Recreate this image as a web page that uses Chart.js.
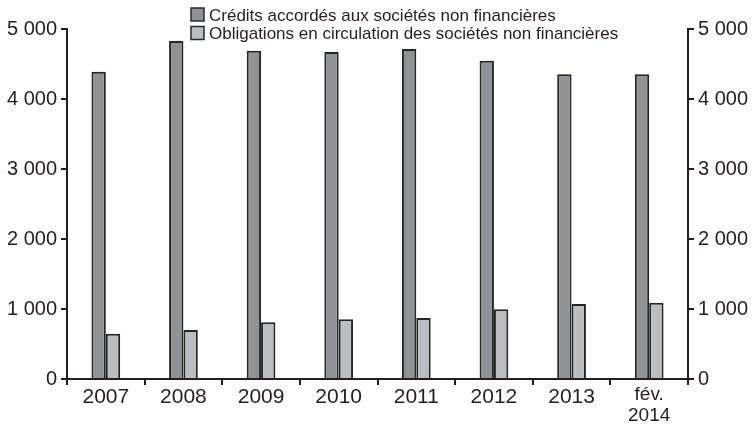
<!DOCTYPE html>
<html lang="fr">
<head>
<meta charset="utf-8">
<script src="https://cdn.jsdelivr.net/npm/chart.js@4/dist/chart.umd.min.js"></script>
<style>
  html, body { margin: 0; padding: 0; background: #fff; }
  #wrap { width: 755px; height: 427px; position: relative; }
</style>
</head>
<body>
<div id="wrap"><canvas id="encours"></canvas></div>
<script>
const labels = ['2007', '2008', '2009', '2010', '2011', '2012', '2013', ['fév.', '2014']];
const credits = [4390, 4830, 4690, 4670, 4715, 4545, 4355, 4355];
const obligations = [645, 700, 810, 855, 870, 995, 1070, 1090];
const yTicks = [0, 1000, 2000, 3000, 4000, 5000];

const ink = '#231f20';
const font = 'Liberation Sans, Arial, sans-serif';

// "5 000" style thousands
const fmt = v => String(v).replace(/\B(?=(\d{3})+(?!\d))/g, ' ');

// legend stacked in two rows above the plot
const topLegend = {
  id: 'topLegend',
  afterDraw(chart) {
    const c = chart.ctx;
    c.save();
    c.font = '17px ' + font;
    c.textBaseline = 'middle';
    chart.data.datasets.forEach((ds, i) => {
      const y = 15 + i * 18.5;
      c.fillStyle = ds.backgroundColor;
      c.fillRect(191, y - 7, 13, 13);
      c.strokeStyle = '#2a2a2a';
      c.lineWidth = 1.5;
      c.strokeRect(191, y - 7, 13, 13);
      c.fillStyle = ink;
      c.fillText(ds.label, 209, y + 1);
    });
    c.restore();
  }
};

const axisY = (position) => ({
  position,
  min: 0,
  max: 5000,
  afterBuildTicks: s => { s.ticks = yTicks.map(v => ({ value: v })); },
  afterFit: s => { s.width = 67; },
  border: { display: true, color: ink, width: 2 },
  grid: { drawOnChartArea: false, color: ink, lineWidth: 2, tickLength: 6 },
  ticks: {
    padding: 4,
    color: ink,
    font: { family: font, size: 20 },
    callback: v => fmt(v),
  },
});

new Chart(document.getElementById('encours'), {
  type: 'bar',
  data: {
    labels,
    datasets: [
      {
        label: 'Crédits accordés aux sociétés non financières',
        data: credits,
        backgroundColor: '#919296',
        borderColor: '#262626',
        borderWidth: 2,
        yAxisID: 'y',
      },
      {
        label: 'Obligations en circulation des sociétés non financières',
        data: obligations,
        backgroundColor: '#bcbdc1',
        borderColor: '#262626',
        borderWidth: 2,
        yAxisID: 'y',
      },
    ]
  },
  options: {
    responsive: true,
    maintainAspectRatio: false,
    animation: false,
    categoryPercentage: 0.37,
    barPercentage: 1,
    layout: { padding: { top: 29 } },
    plugins: {
      legend: { display: false },
      tooltip: { enabled: false },
    },
    scales: {
      x: {
        afterFit: s => { s.height = 48; },
        border: { display: true, color: ink, width: 2 },
        grid: { offset: true, drawOnChartArea: false, color: ink, lineWidth: 2, tickLength: 6 },
        ticks: {
          padding: 0,
          color: ink,
          maxRotation: 0,
          // the two-line last label sits tighter
          font: ctx => ctx.index === 7
            ? { family: font, size: 19, lineHeight: 1.08 }
            : { family: font, size: 21 },
        },
      },
      y: axisY('left'),
      y2: axisY('right'),
    }
  },
  plugins: [topLegend]
});
</script>
</body>
</html>
